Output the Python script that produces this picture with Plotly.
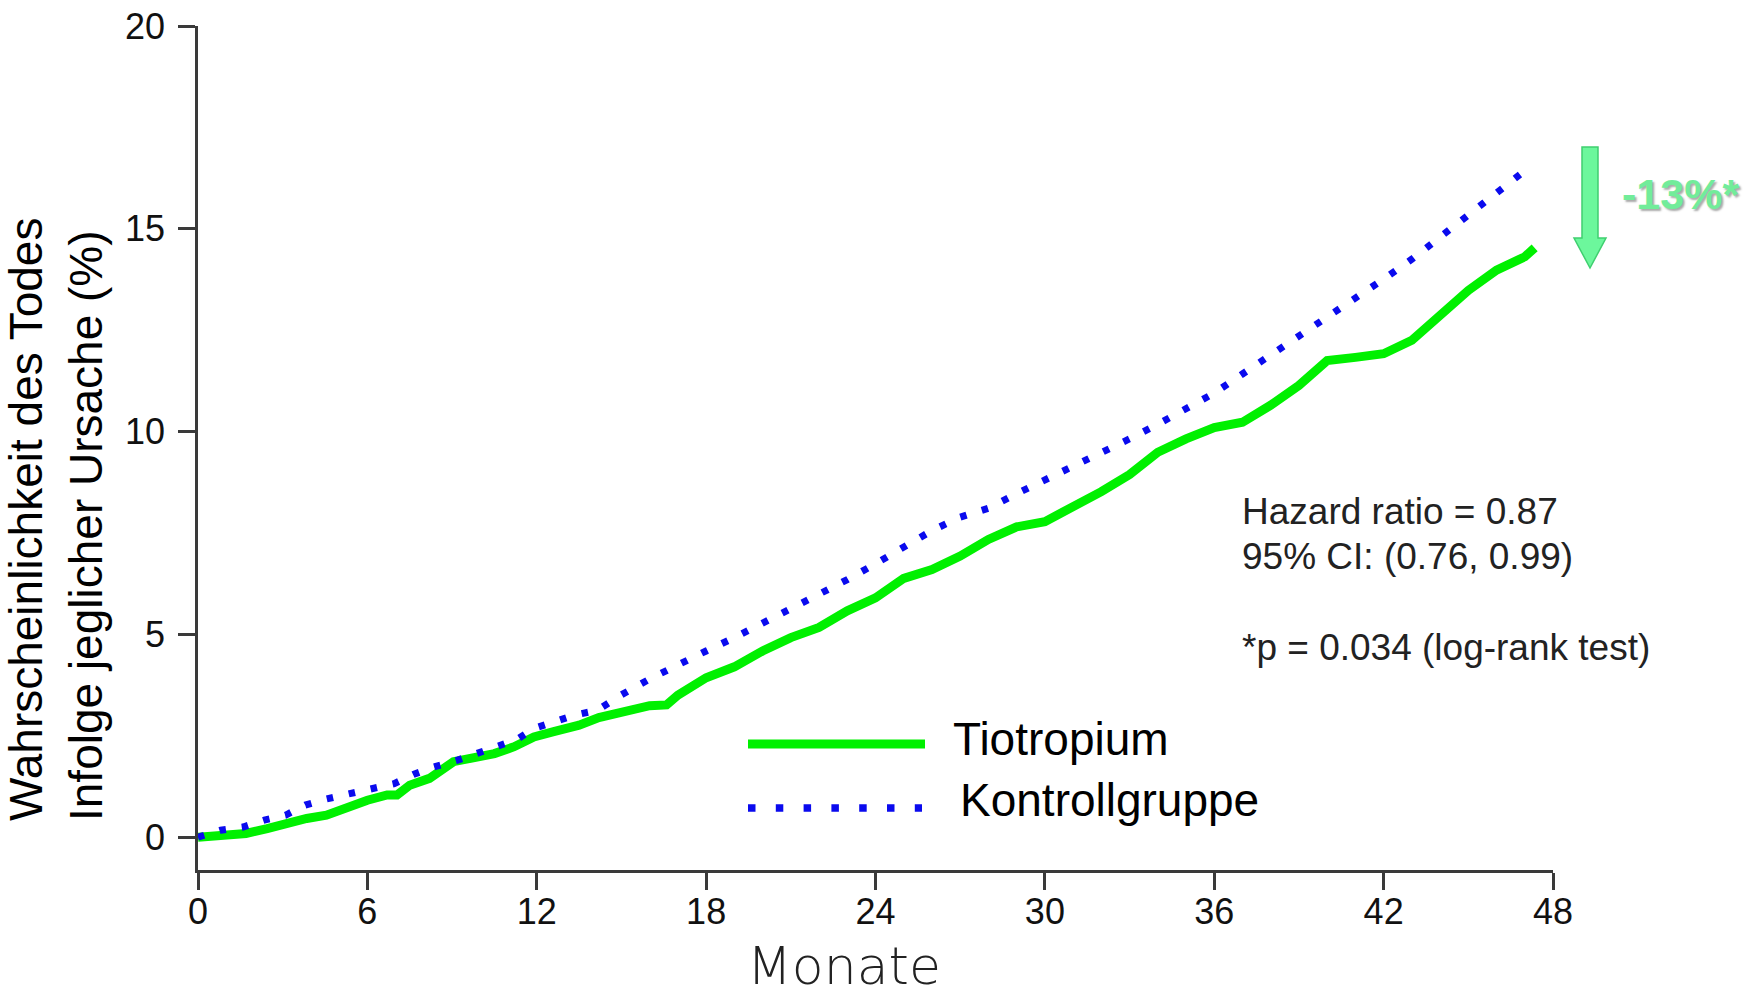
import plotly.graph_objects as go

# ---------------- data ----------------
tio_months = [0, 1.0, 1.7, 2.45, 3.15, 3.85, 4.55, 5.3, 6.0, 6.7, 7.05, 7.5, 8.2, 9.05, 9.8, 10.5, 11.2,
              11.9, 12.6, 13.5, 14.2, 15, 16, 16.6, 17, 18, 19, 20, 21, 22, 23, 24, 25, 26, 27, 28, 29,
              30, 31, 32, 33, 34, 35, 36, 37, 38, 39, 40, 41, 42, 43, 44, 45, 46, 47, 47.35]
tio_values = [0, 0.05, 0.09, 0.21, 0.34, 0.46, 0.54, 0.75, 0.91, 1.04, 1.04, 1.28, 1.45, 1.86, 1.94, 2.06,
              2.23, 2.47, 2.6, 2.76, 2.95, 3.1, 3.24, 3.26, 3.5, 3.93, 4.2, 4.59, 4.92, 5.17, 5.58, 5.9,
              6.38, 6.6, 6.93, 7.34, 7.65, 7.78, 8.14, 8.52, 8.94, 9.49, 9.82, 10.1, 10.23, 10.65, 11.14,
              11.75, 11.83, 11.92, 12.25, 12.85, 13.48, 13.98, 14.31, 14.53]

ctl_months = [0, 0.8, 1.6, 2.35, 3.1, 3.8, 4.55, 5.4, 6.2, 6.95, 7.65, 8.35, 9.2, 9.85, 10.55, 11.3, 11.9,
              12.65, 13.35, 14.15, 15, 16, 17, 18, 19, 20, 21, 22, 23, 24, 25, 26, 27, 28, 29, 30, 31, 32,
              33, 34, 35, 36, 37, 38, 39, 40, 41, 42, 43, 44, 45, 46, 47, 47.3]
ctl_values = [0, 0.17, 0.25, 0.42, 0.54, 0.79, 0.94, 1.08, 1.2, 1.32, 1.55, 1.73, 1.9, 2.06, 2.21, 2.41,
              2.68, 2.84, 3.01, 3.13, 3.51, 3.9, 4.26, 4.59, 4.92, 5.28, 5.64, 5.97, 6.35, 6.74, 7.15, 7.56,
              7.89, 8.11, 8.47, 8.8, 9.13, 9.49, 9.82, 10.18, 10.56, 10.95, 11.42, 11.88, 12.38, 12.79,
              13.26, 13.76, 14.25, 14.8, 15.35, 15.9, 16.43, 16.55]

x_ticks = [0, 6, 12, 18, 24, 30, 36, 42, 48]
y_ticks = [0, 5, 10, 15, 20]

series_names = ["Tiotropium", "Kontrollgruppe"]
stats_lines = ["Hazard ratio = 0.87", "95% CI: (0.76, 0.99)", "*p = 0.034 (log-rank test)"]
reduction_label = "-13%*"
x_title = "Monate"
y_title = "Wahrscheinlichkeit des Todes<br>Infolge jeglicher Ursache (%)"

# ---------------- layout helpers ----------------
W, H = 1751, 997
L, R, T, B = 198, 198, 26, 127
PW, PH = W - L - R, H - T - B


def px(x):
    return (x - L) / PW


def py(y):
    return (H - B - y) / PH


GREEN = "#00f000"
BLUE = "#0a0aee"
AXIS = "#3a3a3a"
FONT = "Liberation Sans, Arial, sans-serif"

fig = go.Figure()
fig.add_trace(go.Scatter(x=tio_months, y=tio_values, mode="lines", name=series_names[0],
                         line=dict(color=GREEN, width=9), showlegend=False))
fig.add_trace(go.Scatter(x=ctl_months, y=ctl_values, mode="lines", name=series_names[1],
                         line=dict(color=BLUE, width=7, dash="6.5px,16px"), showlegend=False))

shapes = []
# legend samples
shapes.append(dict(type="line", xref="paper", yref="paper", x0=px(748), x1=px(925), y0=py(744), y1=py(744),
                   line=dict(color=GREEN, width=9)))
shapes.append(dict(type="line", xref="paper", yref="paper", x0=px(748), x1=px(922), y0=py(808), y1=py(808),
                   line=dict(color=BLUE, width=7.5, dash="7.5px,20.3px")))
# block arrow
arrow_pts = [(1582, 147), (1598, 147), (1598, 238), (1606, 238), (1590, 268), (1574, 238), (1582, 238)]
path = "M " + " L ".join(f"{px(a):.5f},{py(b):.5f}" for a, b in arrow_pts) + " Z"
shapes.append(dict(type="path", xref="paper", yref="paper", path=path,
                   fillcolor="#6cf79c", line=dict(color="#3fcf6f", width=1.5)))

annotations = []
annotations.append(dict(xref="paper", yref="paper", x=px(951), y=py(739), xanchor="left", yanchor="middle",
                        text=series_names[0], showarrow=False, font=dict(family=FONT, size=46, color="#000")))
annotations.append(dict(xref="paper", yref="paper", x=px(958), y=py(800), xanchor="left", yanchor="middle",
                        text=series_names[1], showarrow=False, font=dict(family=FONT, size=46, color="#000")))
for txt, yc in zip(stats_lines, [511, 556, 647]):
    annotations.append(dict(xref="paper", yref="paper", x=px(1240), y=py(yc), xanchor="left", yanchor="middle",
                            text=txt, showarrow=False, font=dict(family=FONT, size=37, color="#222")))
annotations.append(dict(xref="paper", yref="paper", x=px(1680), y=py(194), xanchor="center", yanchor="middle",
                        text=f"<b>{reduction_label}</b>", showarrow=False,
                        font=dict(family=FONT, size=43, color="#72ec9a", shadow="2px 2px 2px #aaaaaa")))
annotations.append(dict(xref="paper", yref="paper", x=px(844), y=py(998), xanchor="center", yanchor="bottom",
                        text=x_title, showarrow=False,
                        font=dict(family="DejaVu Sans, sans-serif", size=52, color="#222", weight=200)))
annotations.append(dict(xref="paper", yref="paper", x=px(56), y=py(520), xanchor="center", yanchor="middle",
                        text=y_title, showarrow=False, textangle=-90, align="left",
                        font=dict(family=FONT, size=46, color="#000")))

fig.update_layout(
    width=W, height=H,
    margin=dict(l=L, r=R, t=T, b=B, autoexpand=False),
    paper_bgcolor="white", plot_bgcolor="white",
    shapes=shapes, annotations=annotations,
    showlegend=False,
    xaxis=dict(range=[0, 48], tickvals=x_ticks, ticktext=[str(v) for v in x_ticks],
               showline=True, linecolor=AXIS, linewidth=2.5, ticks="outside", ticklen=17, tickwidth=2.5,
               tickcolor=AXIS, showgrid=False, zeroline=False, automargin=False, ticklabelstandoff=-9,
               tickfont=dict(family=FONT, size=36, color="#111")),
    yaxis=dict(range=[-0.81, 20], tickvals=y_ticks, ticktext=[str(v) for v in y_ticks],
               showline=True, linecolor=AXIS, linewidth=2.5, ticks="outside", ticklen=17, tickwidth=2.5,
               tickcolor=AXIS, showgrid=False, zeroline=False, automargin=False, ticklabelstandoff=6,
               tickfont=dict(family=FONT, size=36, color="#111")),
)

fig.write_html("out.html")
